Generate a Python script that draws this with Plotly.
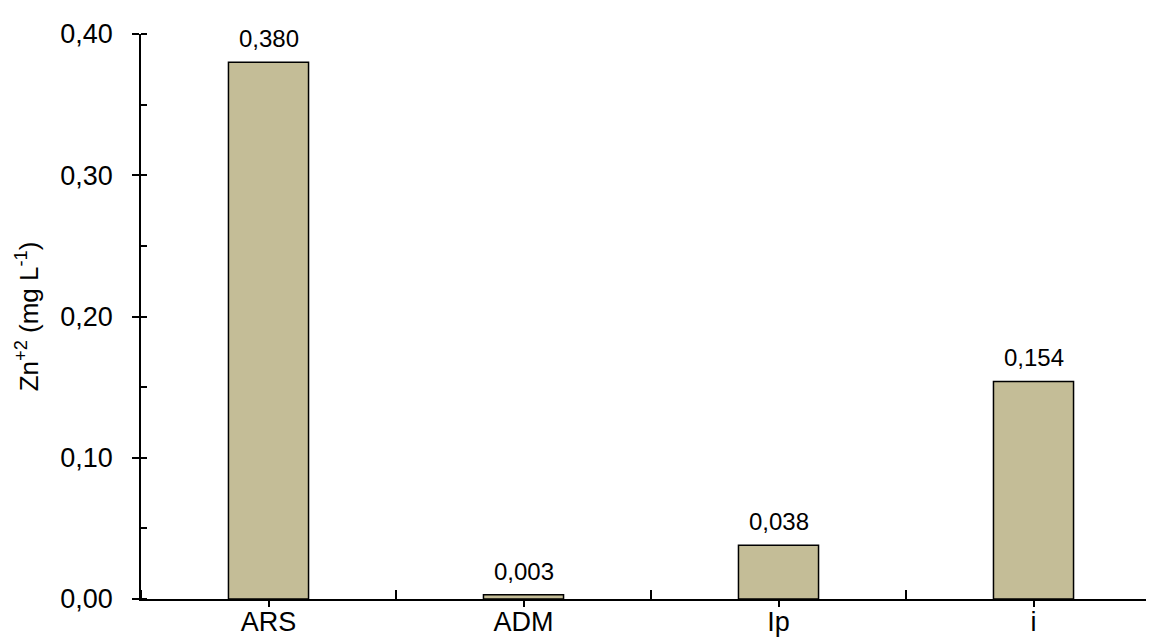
import plotly.graph_objects as go

categories = ["ARS", "ADM", "Ip", "i"]
values = [0.380, 0.003, 0.038, 0.154]
labels = ["0,380", "0,003", "0,038", "0,154"]
y_ticks = [0.0, 0.1, 0.2, 0.3, 0.4]
y_ticktext = ["0,00", "0,10", "0,20", "0,30", "0,40"]

positions = [i + 0.5 for i in range(len(categories))]

fig = go.Figure()
fig.add_trace(go.Bar(
    x=positions, y=values, width=0.314,
    marker=dict(color="#C4BD97", line=dict(color="black", width=1.5)),
))

for xp, v, lab in zip(positions, values, labels):
    fig.add_annotation(x=xp, y=v, text=lab, showarrow=False,
                       xanchor="center", yanchor="bottom", yshift=8,
                       font=dict(size=24, color="black"))

fig.update_layout(
    width=1154, height=639,
    margin=dict(l=133, r=1, t=26, b=48),
    paper_bgcolor="white", plot_bgcolor="white",
    font=dict(family="Liberation Sans, Arial, sans-serif", color="black"),
    showlegend=False,
    xaxis=dict(
        range=[0, len(categories)],
        tickvals=positions + [len(categories)],
        ticktext=categories + [""],
        ticks="outside", ticklen=6, tickwidth=1.5, tickcolor="black",
        tickfont=dict(size=27), ticklabelstandoff=-8,
        showline=True, linecolor="black", linewidth=1.5,
        showgrid=False, zeroline=False, automargin=False,
        minor=dict(tickvals=list(range(len(categories) + 1)), ticks="inside",
                   ticklen=9, tickwidth=1.5, tickcolor="black", showgrid=False),
    ),
    yaxis=dict(
        range=[0, 0.4],
        tickvals=y_ticks, ticktext=y_ticktext,
        ticks="outside", ticklen=7, tickwidth=1.5, tickcolor="black",
        tickfont=dict(size=27), ticklabelstandoff=14,
        showline=True, linecolor="black", linewidth=1.5,
        showgrid=False, zeroline=False, automargin=False,
        title=dict(text="Zn<sup>+2</sup> (mg L<sup>-1</sup>)", font=dict(size=26), standoff=14),
        minor=dict(tickvals=[i * 0.05 for i in range(9)], ticks="inside",
                   ticklen=6, tickwidth=1.5, tickcolor="black", showgrid=False),
    ),
)

fig.write_html("out.html")
